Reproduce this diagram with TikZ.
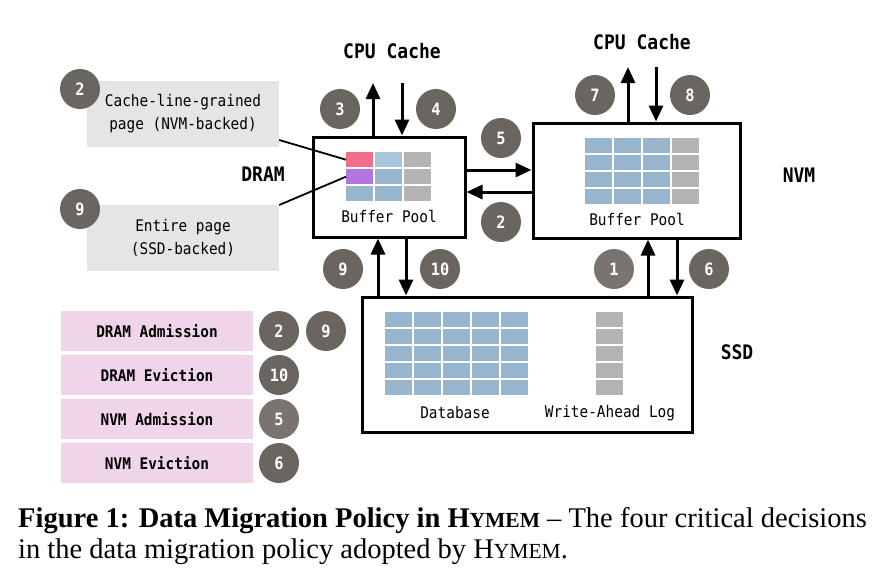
\documentclass[tikz,border=0pt]{standalone}
\usepackage{fontspec}
\setmainfont{Liberation Serif}
\setmonofont[FakeStretch=0.9]{DejaVu Sans Mono}
\usetikzlibrary{arrows.meta}
\definecolor{cblue}{HTML}{97B5CF}
\definecolor{clblue}{HTML}{A9C5D9}
\definecolor{cgray}{HTML}{B3B3B3}
\definecolor{cpink}{HTML}{F26D8A}
\definecolor{cpurple}{HTML}{B275DF}
\definecolor{numgray}{HTML}{6B6560}
\definecolor{numlight}{HTML}{7A7470}
\definecolor{notegray}{HTML}{E5E5E5}
\definecolor{legpink}{HTML}{F0D5EA}
\newcommand{\hysc}{H{\fontsize{21.5}{21.5}\selectfont YMEM}}
\begin{document}
\begin{tikzpicture}[x=1pt,y=-1pt,
  membox/.style={draw=black, line width=3pt, fill=white, inner sep=0pt},
  arr/.style={line width=3pt, -{Triangle[width=14pt,length=16pt]}},
  num/.style={circle, fill=numgray, text=white, minimum size=40pt, inner sep=0pt,
    font=\ttfamily\bfseries\fontsize{17}{17}\selectfont},
  numl/.style={num, fill=numlight},
  lbl/.style={font=\ttfamily\bfseries\fontsize{20}{20}\selectfont},
  txt/.style={font=\ttfamily\fontsize{16}{16}\selectfont},
  note/.style={fill=notegray, minimum width=192pt, inner sep=0pt, align=center,
    font=\ttfamily\fontsize{16}{23}\selectfont},
  leg/.style={fill=legpink, minimum width=192pt, minimum height=40pt, inner sep=0pt,
    font=\ttfamily\bfseries\fontsize{16}{16}\selectfont},
  cell/.style={inner sep=0pt, minimum width=27pt, minimum height=15pt, anchor=north west},
  cline/.style={line width=1.8pt}
]
\useasboundingbox (0,0) rectangle (884,574);

% memory boxes
\node[membox, minimum width=152pt, minimum height=100pt] (dram) at (389,187) {};
\node[membox, minimum width=207pt, minimum height=115pt] (nvm) at (636.5,180.5) {};
\node[membox, minimum width=330pt, minimum height=135pt] (ssd) at (527,364.5) {};

% DRAM grid
\node[cell, fill=cpink] (pink) at (346,152) {};
\node[cell, fill=clblue] (d12) at (375,152) {};
\node[cell, fill=cgray] (d13) at (404,152) {};
\node[cell, fill=cpurple] (purple) at (346,169) {};
\node[cell, fill=cblue] (d22) at (375,169) {};
\node[cell, fill=cgray] (d23) at (404,169) {};
\node[cell, fill=cblue] (d31) at (346,186) {};
\node[cell, fill=cblue] (d32) at (375,186) {};
\node[cell, fill=cgray] (d33) at (404,186) {};
\node[txt] (dbp) at (389,216) {Buffer Pool};

% NVM grid
\foreach \r in {0,1,2,3} {
  \foreach \c in {0,1,2} {
    \fill[cblue] (585+29*\c,138+17*\r) rectangle ++(27,15);
  }
  \fill[cgray] (672,138+17*\r) rectangle ++(27,15);
}
\node[txt] (nbp) at (637,219) {Buffer Pool};

% SSD database grid and WAL
\foreach \r in {0,...,4} {
  \foreach \c in {0,...,4} {
    \fill[cblue] (385+29*\c,312+17*\r) rectangle ++(27,15);
  }
  \fill[cgray] (596,312+17*\r) rectangle ++(27,15);
}
\node[txt] (dbl) at (455,413) {Database};
\node[txt] (wal) at (610,413) {Write-Ahead Log};

% labels
\node[lbl] (ldram) at (263,174) {DRAM};
\node[lbl] (lnvm) at (799,175) {NVM};
\node[lbl] (lssd) at (737,352) {SSD};
\node[lbl] (cpu1) at (392,51) {CPU Cache};
\node[lbl] (cpu2) at (642,42) {CPU Cache};

% connector coordinates
\coordinate (a3) at (373,83);
\coordinate (a4) at (402,83);
\coordinate (a7) at (628,67);
\coordinate (a8) at (656,67);
\coordinate (h5) at (0,170);
\coordinate (h2) at (0,192);
\coordinate (v9) at (378,0);
\coordinate (v10) at (406,0);
\coordinate (v1) at (648,0);
\coordinate (v6) at (677,0);
\coordinate (t1) at (0,140);
\coordinate (t2) at (0,205);

\draw[arr] (dram.north -| a3) -- (a3);
\draw[arr] (a4) -- (a4 |- dram.north);
\draw[arr] (nvm.north -| a7) -- (a7);
\draw[arr] (a8) -- (a8 |- nvm.north);
\draw[arr] (dram.east |- h5) -- (nvm.west |- h5);
\draw[arr] (nvm.west |- h2) -- (dram.east |- h2);
\draw[arr] (ssd.north -| v9) -- (dram.south -| v9);
\draw[arr] (dram.south -| v10) -- (ssd.north -| v10);
\draw[arr] (ssd.north -| v1) -- (nvm.south -| v1);
\draw[arr] (nvm.south -| v6) -- (ssd.north -| v6);

% step circles
\node[num] (n3) at (340,109) {3};
\node[num] (n4) at (436,109) {4};
\node[num] (n5) at (501,138) {5};
\node[num] (n2) at (501,222) {2};
\node[num] (n7) at (595,95) {7};
\node[num] (n8) at (690,95) {8};
\node[numl] (n1) at (614,269) {1};
\node[num] (n6) at (709,269) {6};
\node[num] (n9) at (343,269) {9};
\node[num] (n10) at (440,269) {10};

% notes
\node[note, minimum height=66pt] (note1) at (183,114) {Cache-line-grained\\page (NVM-backed)};
\node[note, minimum height=66pt] (note2) at (183,237.5) {Entire page\\(SSD-backed)};
\node[num] (m2) at (80,89) {2};
\node[num] (m9) at (80,209) {9};
\draw[cline] (note1.east |- t1) -- (pink.west);
\draw[cline] (note2.east |- t2) -- (purple.west);

% legend
\node[leg] (l1) at (157,331) {DRAM Admission};
\node[leg] (l2) at (157,375) {DRAM Eviction};
\node[leg] (l3) at (157,419) {NVM Admission};
\node[leg] (l4) at (157,463) {NVM Eviction};
\node[num] (k2) at (279,331) {2};
\node[num] (k9) at (326,331) {9};
\node[num] (k10) at (279,375) {10};
\node[numl] (k5) at (279,419) {5};
\node[num] (k6) at (279,463) {6};

% caption
\node[anchor=base west, inner sep=0pt, font=\fontsize{28.5}{28.5}\selectfont] (cap1) at (18,527)
  {\textbf{Figure 1: Data Migration Policy in \hysc} -- The four critical decisions};
\node[anchor=base west, inner sep=0pt, font=\fontsize{28.5}{28.5}\selectfont] (cap2) at (18,558)
  {in the data migration policy adopted by \hysc.};
\end{tikzpicture}
\end{document}
